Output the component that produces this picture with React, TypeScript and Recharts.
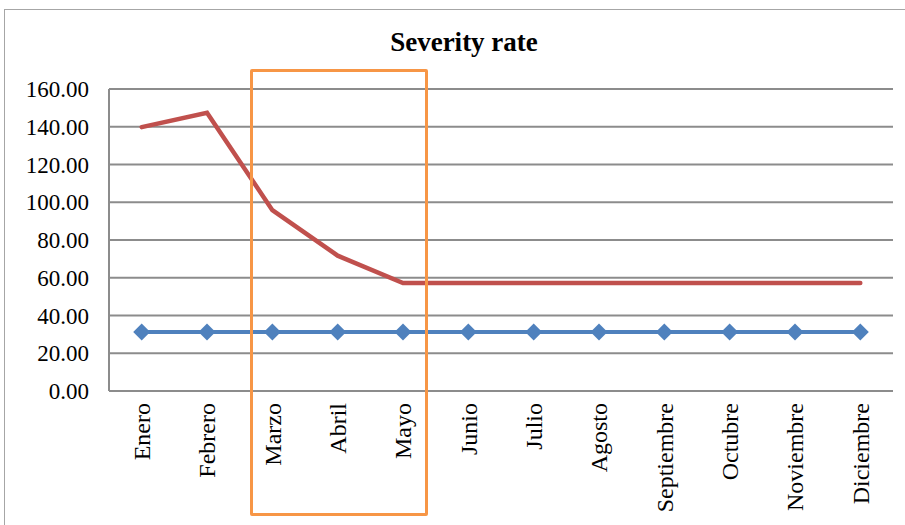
import React from 'react';
import { LineChart, Line, XAxis, YAxis, CartesianGrid } from 'recharts';

// Monthly severity rate vs. reference level
const months = [
  'Enero', 'Febrero', 'Marzo', 'Abril', 'Mayo', 'Junio',
  'Julio', 'Agosto', 'Septiembre', 'Octubre', 'Noviembre', 'Diciembre',
];
const severity = [139.8, 147.4, 95.8, 71.7, 57.2, 57.2, 57.2, 57.2, 57.2, 57.2, 57.2, 57.2];
const reference = [31.2, 31.2, 31.2, 31.2, 31.2, 31.2, 31.2, 31.2, 31.2, 31.2, 31.2, 31.2];
const yTicks = [0, 20, 40, 60, 80, 100, 120, 140, 160];

const data = months.map((m, i) => ({ month: m, severity: severity[i], reference: reference[i] }));

const FONT = '"Liberation Serif", "Times New Roman", serif';

const MonthTick = (props: any) => {
  const { x, y, payload } = props;
  return (
    <text
      x={x}
      y={y}
      transform={`rotate(-90, ${x}, ${y})`}
      textAnchor="end"
      dy="0.35em"
      fontFamily={FONT}
      fontSize={24}
      fill="#000"
    >
      {payload.value}
    </text>
  );
};

const Diamond = (props: any) => {
  const { cx, cy } = props;
  if (cx == null || cy == null) return null;
  const r = 8.5;
  return (
    <path
      d={`M${cx},${cy - r}L${cx + r},${cy}L${cx},${cy + r}L${cx - r},${cy}Z`}
      fill="#4F81BD"
    />
  );
};

export default function App() {
  return (
    <div style={{ position: 'absolute', left: 0, top: 0, width: 905, height: 525, background: '#fff', overflow: 'hidden' }}>
      <div
        style={{
          position: 'absolute', left: 4, top: 9, width: 920, height: 540,
          border: '1px solid #a6a6a6', boxSizing: 'border-box',
        }}
      />
      <div
        style={{
          position: 'absolute', left: 0, top: 29, width: 928, textAlign: 'center',
          fontFamily: FONT, fontWeight: 'bold', fontSize: 27, lineHeight: 1, color: '#000',
        }}
      >
        Severity rate
      </div>
      <div style={{ position: 'absolute', left: 0, top: 0 }}>
        <LineChart
          width={905}
          height={525}
          data={data}
          margin={{ top: 89, right: 12, left: 9, bottom: 0 }}
        >
          <CartesianGrid horizontal vertical={false} stroke="#8c8c8c" strokeWidth={2} />
          <XAxis
            dataKey="month"
            interval={0}
            padding={{ left: 32.7, right: 32.7 }}
            tickLine={false}
            axisLine={{ stroke: '#8c8c8c', strokeWidth: 2 }}
            tick={<MonthTick />}
            tickMargin={6}
            height={134}
          />
          <YAxis
            domain={[0, 160]}
            ticks={yTicks}
            interval={0}
            width={100}
            tickLine={false}
            axisLine={{ stroke: '#8c8c8c', strokeWidth: 2 }}
            tickMargin={14}
            tickFormatter={(v: number) => v.toFixed(2)}
            tick={{ fontFamily: FONT, fontSize: 23, fill: '#000' }}
          />
          <Line
            type="linear"
            dataKey="reference"
            stroke="#4F81BD"
            strokeWidth={4}
            dot={<Diamond />}
            isAnimationActive={false}
          />
          <Line
            type="linear"
            dataKey="severity"
            stroke="#C0504D"
            strokeWidth={4.5}
            strokeLinecap="round"
            dot={false}
            isAnimationActive={false}
          />
        </LineChart>
      </div>
      <div
        style={{
          position: 'absolute', left: 250, top: 69, width: 178, height: 447,
          border: '3.5px solid #F79646', boxSizing: 'border-box', borderRadius: 2,
        }}
      />
    </div>
  );
}
